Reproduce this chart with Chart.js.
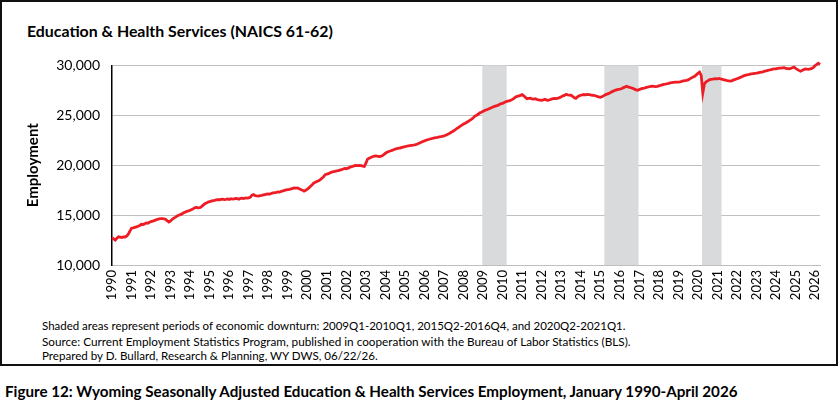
<!DOCTYPE html>
<html>
<head>
<meta charset="utf-8">
<script src="https://cdn.jsdelivr.net/npm/chart.js@4.4.1/dist/chart.umd.min.js"></script>
<style>
  html, body { margin: 0; padding: 0; background: #fff; }
  body { width: 840px; height: 413px; position: relative; overflow: hidden; font-family: Lato, "Noto Sans", sans-serif; color: #000; }
  #box { position: absolute; left: 0; top: 0; width: 834px; height: 362px; border: 2px solid #111; }
  #title { position: absolute; left: 27px; top: 21px; font-size: 16px; font-weight: bold; white-space: nowrap; }
  #wrap { position: absolute; left: 0; top: 45px; width: 840px; height: 265px; }
  .note { position: absolute; left: 42px; font-size: 11.5px; white-space: nowrap; }
  #caption { position: absolute; left: 5px; top: 382px; font-size: 14.5px; font-weight: bold; white-space: nowrap; }
</style>
</head>
<body>
<div id="box"></div>
<div id="title" data-w="306">Education &amp; Health Services (NAICS 61-62)</div>
<div id="wrap"><canvas id="c"></canvas></div>
<div class="note" style="top:319px" data-w="584">Shaded areas represent periods of economic downturn: 2009Q1-2010Q1, 2015Q2-2016Q4, and 2020Q2-2021Q1.</div>
<div class="note" style="top:334px" data-w="589">Source: Current Employment Statistics Program, published in cooperation with the Bureau of Labor Statistics (BLS).</div>
<div class="note" style="top:349px" data-w="336">Prepared by D. Bullard, Research &amp; Planning, WY DWS, 06/22/26.</div>
<div id="caption" data-w="733">Figure 12: Wyoming Seasonally Adjusted Education &amp; Health Services Employment, January 1990-April 2026</div>
<script>
// ---- Data (monthly, seasonally adjusted employment) ----
const years = [1990,1991,1992,1993,1994,1995,1996,1997,1998,1999,2000,2001,2002,2003,2004,2005,2006,2007,2008,2009,2010,2011,2012,2013,2014,2015,2016,2017,2018,2019,2020,2021,2022,2023,2024,2025,2026];
const monthsIn2026 = 4;

const v1990s = [
  12750,12620,12500,12680,12820,12790,12760,12820,12800,12900,13090,13400,
  13690,13720,13760,13820,13880,13950,14080,14050,14120,14220,14180,14280,
  14350,14400,14450,14520,14580,14620,14640,14650,14630,14560,14420,14310,
  14420,14580,14700,14800,14910,14980,15050,15120,15240,15300,15380,15420,
  15480,15560,15650,15740,15760,15720,15740,15850,16000,16130,16200,16300,
  16350,16400,16450,16480,16520,16550,16540,16570,16600,16560,16580,16620,
  16570,16640,16600,16630,16680,16650,16600,16680,16700,16660,16730,16700,
  16720,16800,17000,17060,16950,16920,16900,16950,16980,17020,17060,17100,
  17130,17100,17180,17220,17250,17280,17330,17300,17380,17420,17480,17520,
  17550,17570,17620,17680,17730,17700,17720,17650,17570,17500,17400,17480
];
const v2000s = [
  17600,17730,17900,18050,18220,18300,18380,18450,18560,18700,18850,19050,
  19100,19150,19250,19310,19350,19380,19420,19450,19500,19550,19620,19680,
  19650,19700,19780,19850,19880,19950,19980,19950,19970,19950,19900,19880,
  20200,20610,20700,20780,20850,20900,20940,20900,20870,20880,20950,21050,
  21200,21300,21370,21420,21480,21550,21620,21650,21700,21720,21780,21820,
  21860,21900,21940,21970,21990,22010,22040,22080,22150,22220,22300,22380,
  22440,22500,22560,22600,22650,22700,22730,22770,22800,22840,22860,22900,
  22930,23000,23080,23150,23250,23360,23450,23560,23680,23800,23920,24020,
  24120,24200,24300,24400,24520,24620,24750,24920,25000,25100,25250,25300,
  25400,25480,25550,25600,25680,25750,25840,25900,25950,26000,26080,26170
];
const v2010s = [
  26200,26280,26350,26420,26440,26500,26600,26700,26840,26900,26950,27000,
  27070,26950,26800,26670,26700,26720,26650,26620,26670,26600,26550,26520,
  26510,26550,26600,26520,26510,26560,26620,26670,26700,26680,26720,26770,
  26850,26950,27000,27100,27050,27020,27010,26900,26750,26700,26850,26950,
  27010,27050,27080,27050,27100,27080,27050,27010,27000,26960,26900,26850,
  26800,26850,26950,27050,27120,27170,27250,27350,27420,27500,27550,27600,
  27620,27660,27750,27820,27900,27850,27800,27760,27700,27620,27550,27500,
  27580,27650,27700,27730,27780,27820,27860,27900,27920,27900,27880,27900,
  27950,28000,28050,28100,28120,28160,28200,28250,28280,28300,28320,28330,
  28330,28360,28400,28450,28480,28500,28550,28650,28750,28830,28900,29050
];
const v2020s = [
  29200,29320,29000,27240,28160,28350,28450,28560,28600,28620,28650,28680,
  28660,28700,28640,28600,28560,28520,28480,28450,28430,28480,28550,28600,
  28660,28720,28800,28870,28950,29000,29050,29080,29120,29150,29180,29200,
  29220,29260,29300,29330,29360,29420,29450,29500,29540,29580,29620,29650,
  29650,29700,29730,29720,29750,29780,29700,29680,29650,29700,29760,29820,
  29700,29600,29500,29420,29500,29580,29650,29620,29600,29650,29700,29800,
  29990,30100,30220,30090
];
const employment = v1990s.concat(v2000s, v2010s, v2020s);

// Downturn periods (first month, last month)
const downturnStart = ["2009-01", "2015-04", "2020-04"];
const downturnEnd   = ["2010-03", "2016-12", "2021-03"];

const yTicks = [10000, 15000, 20000, 25000, 30000];

// ---- Category labels ----
const labels = [];
years.forEach(y => {
  const n = (y === 2026) ? monthsIn2026 : 12;
  for (let m = 1; m <= n; m++) labels.push(y + "-" + String(m).padStart(2, "0"));
});

// ---- Fit text widths ----
document.querySelectorAll("[data-w]").forEach(el => {
  const target = parseFloat(el.dataset.w);
  const fs = parseFloat(getComputedStyle(el).fontSize);
  const w = el.getBoundingClientRect().width;
  el.style.fontSize = (fs * target / w).toFixed(2) + "px";
});

const shading = {
  id: "shading",
  beforeDatasetsDraw(chart) {
    const {ctx, chartArea, scales} = chart;
    ctx.save();
    ctx.fillStyle = "#d9dadc";
    for (let i = 0; i < downturnStart.length; i++) {
      const a = labels.indexOf(downturnStart[i]);
      const b = labels.indexOf(downturnEnd[i]);
      const x0 = scales.x.getPixelForValue(a - 0.5);
      const x1 = scales.x.getPixelForValue(b + 0.5);
      ctx.fillRect(x0, chartArea.top, x1 - x0, chartArea.bottom - chartArea.top);
    }
    ctx.restore();
  }
};

new Chart(document.getElementById("c"), {
  type: "line",
  data: {
    labels: labels,
    datasets: [{
      data: employment,
      borderColor: "#ee1c25",
      borderWidth: 2.8,
      pointRadius: 0,
      tension: 0,
      fill: false,
      clip: 8
    }]
  },
  options: {
    responsive: true,
    maintainAspectRatio: false,
    animation: false,
    devicePixelRatio: 1,
    layout: { padding: { top: 18, right: 20, left: 0, bottom: 0 } },
    plugins: { legend: { display: false }, tooltip: { enabled: false } },
    scales: {
      x: {
        type: "category",
        offset: false,
        grid: { display: false, drawTicks: false },
        border: { display: true, color: "#bfbfbf", width: 1 },
        ticks: {
          autoSkip: false,
          maxRotation: 90,
          minRotation: 90,
          padding: 5,
          color: "#000",
          font: { family: "Lato", size: 13 },
          callback: function(v, i) {
            const l = labels[i];
            return l.endsWith("-01") ? l.slice(0, 4) : null;
          }
        },
        afterFit(scale) { scale.height = 45; }
      },
      y: {
        min: 10000,
        max: 30000,
        afterBuildTicks(scale) { scale.ticks = yTicks.map(v => ({ value: v })); },
        grid: { color: "#c0c0c0", lineWidth: 1, drawTicks: false },
        border: { display: true, color: "#000", width: 1.5 },
        ticks: {
          padding: 12,
          color: "#000",
          font: { family: "Lato", size: 14 },
          callback: v => v.toLocaleString("en-US")
        },
        title: {
          display: true,
          text: "Employment",
          color: "#000",
          font: { family: "Lato", size: 15, weight: "bold" },
          padding: { top: 24, bottom: 0 }
        },
        afterFit(scale) { scale.width = 112; }
      }
    }
  },
  plugins: [shading]
});
</script>
</body>
</html>
